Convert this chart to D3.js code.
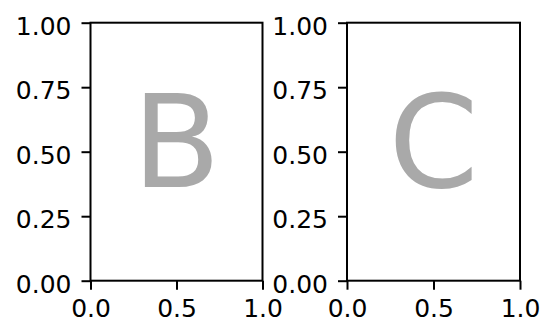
<!DOCTYPE html>
<html>
<head>
<meta charset="utf-8">
<script src="https://cdn.jsdelivr.net/npm/d3@7"></script>
<style>
  html, body { margin: 0; padding: 0; background: #fff; }
  svg { display: block; }
</style>
</head>
<body>
<svg id="chart" width="545" height="324"></svg>
<script>
// Panel labels (one per subplot)
const panelLabels = ["B", "C"];
// Axis domains and tick values
const xDomain = [0, 1];
const yDomain = [0, 1];
const xTickValues = [0, 0.5, 1.0];
const yTickValues = [0, 0.25, 0.5, 0.75, 1.0];

(function () {
  const svg = d3.select("#chart");
  const font = "DejaVu Sans, sans-serif";

  // layout of the two panels
  const panels = [
    { left: 90.5, right: 262.5 },
    { left: 347, right: 520 }
  ];
  const plotTop = 22.7, plotBottom = 280.7;
  const tickLen = 9, tickPad = 10, lw = 2;

  panels.forEach((p, i) => {
    const x = d3.scaleLinear().domain(xDomain).range([p.left, p.right]);
    const y = d3.scaleLinear().domain(yDomain).range([plotBottom, plotTop]);
    const g = svg.append("g");

    // frame (all four spines)
    g.append("rect")
      .attr("x", p.left).attr("y", plotTop)
      .attr("width", p.right - p.left).attr("height", plotBottom - plotTop)
      .attr("fill", "none").attr("stroke", "#000").attr("stroke-width", lw);

    // panel letter
    g.append("text")
      .attr("x", (p.left + p.right) / 2)
      .attr("y", 187)
      .attr("text-anchor", "middle")
      .attr("font-family", font)
      .attr("font-size", 129)
      .attr("fill", "#a9a9a9")
      .text(panelLabels[i]);

    const yAxis = d3.axisLeft(y).tickValues(yTickValues)
      .tickFormat(d3.format(".2f")).tickSize(tickLen).tickPadding(tickPad).tickSizeOuter(0);
    const xAxis = d3.axisBottom(x).tickValues(xTickValues)
      .tickFormat(d3.format(".1f")).tickSize(tickLen).tickPadding(tickPad).tickSizeOuter(0);

    const ya = g.append("g").attr("transform", `translate(${p.left},0)`).call(yAxis);
    const xa = g.append("g").attr("transform", `translate(0,${plotBottom})`).call(xAxis);

    [ya, xa].forEach(a => {
      a.select(".domain").remove();
      a.selectAll(".tick line").attr("stroke", "#000").attr("stroke-width", lw);
      a.selectAll(".tick text")
        .attr("fill", "#000")
        .attr("font-family", font)
        .attr("font-size", 25);
    });
    ya.selectAll(".tick text").attr("dy", "0.46em");
    xa.selectAll(".tick text").attr("dy", "0.71em");
  });
})();
</script>
</body>
</html>
